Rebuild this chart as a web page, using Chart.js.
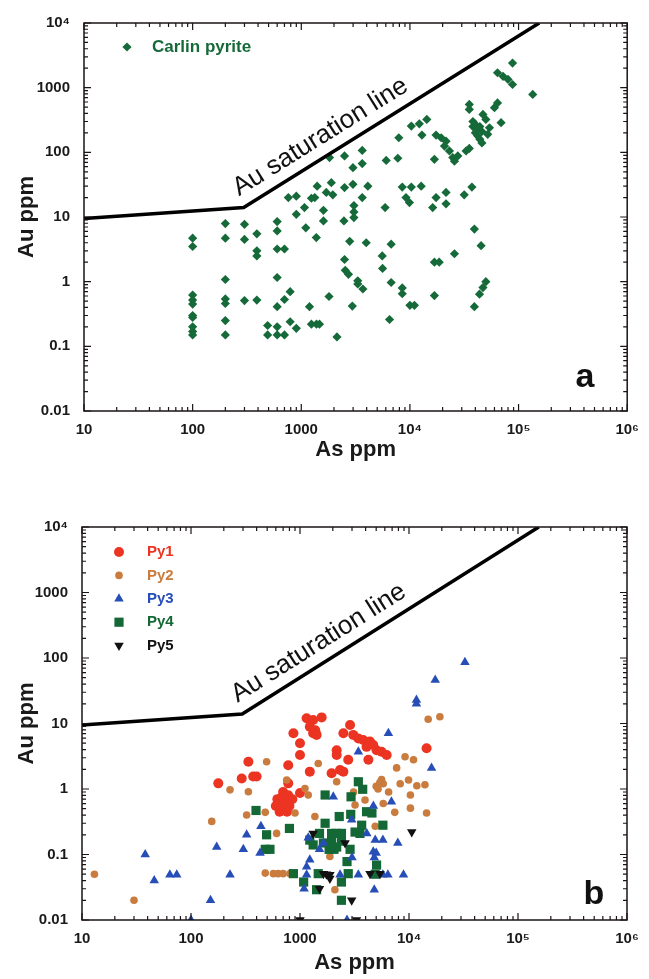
<!DOCTYPE html>
<html>
<head>
<meta charset="utf-8">
<script src="https://cdn.jsdelivr.net/npm/chart.js@4.4.0/dist/chart.umd.min.js"></script>
<style>
  html, body { margin: 0; padding: 0; background: #fff; }
  body { width: 649px; height: 979px; position: relative; overflow: hidden; }
  .panel { position: absolute; left: 0; width: 649px; }
  #panelA { top: 0; height: 470px; }
  #panelB { top: 490px; height: 489px; }
</style>
</head>
<body>
<div class="panel" id="panelA"><canvas id="chartA" width="649" height="470"></canvas></div>
<div class="panel" id="panelB"><canvas id="chartB" width="649" height="489"></canvas></div>
<script>
// tick labels
var xTickLabels = ['10', '100', '1000', '10⁴', '10⁵', '10⁶'];
var yTickLabels = ['0.01', '0.1', '1', '10', '100', '1000', '10⁴'];

// Au saturation line (As ppm, Au ppm)
var satAs = [10, 295, 155000];
var satAu = [9.5, 14, 10000];
var satLabel = 'Au saturation line';

// panel a: [As ppm, Au ppm]
var carlinPyrite = [
  [100,4.7],[100,3.5],[100,0.62],[100,0.52],[100,0.45],[100,0.3],[100,0.28],[100,0.2],[100,0.17],[100,0.15],
  [200,7.9],[200,4.7],[200,1.08],[200,0.54],[200,0.46],[200,0.25],[200,0.15],
  [300,7.7],[300,4.5],[300,0.51],
  [390,5.5],[390,3.0],[390,2.5],[390,0.52],
  [490,0.21],[490,0.15],
  [600,8.5],[600,6.1],[600,3.2],[600,1.16],[600,0.41],[600,0.2],[600,0.15],
  [700,3.2],[700,0.53],[700,0.15],
  [760,20],[790,0.7],[790,0.24],
  [900,21],[900,11],[900,0.19],
  [1070,14],[1100,6.8],[1190,0.41],[1240,19.5],[1240,0.22],[1330,20],[1400,30],[1375,4.8],[1380,0.22],[1470,0.22],
  [1600,12.7],[1600,8.7],[1700,24],[1800,0.59],[1820,83],[1890,34],[1950,22],[2130,0.14],
  [2470,8.7],[2500,28.5],[2500,2.2],[2500,88],[2540,1.5],[2720,1.3],[2790,4.2],
  [2990,32],[2990,58],[2950,0.42],[3050,15],[3050,12],[3050,9.8],
  [3310,1.03],[3310,0.92],[3640,107],[3640,67],[3640,20],[3690,0.77],[3960,4.0],[4100,30],
  [5560,2.5],[5600,1.6],[5910,14],[6050,75],[6490,0.26],[6720,3.8],[6720,0.97],
  [7740,81],[7900,168],[8500,29],[8500,0.8],[8500,0.65],[9200,20],[9900,16.7],
  [10300,29],[10300,255],[10000,0.43],[11000,0.43],[12200,276],[12700,30],[12900,185],[14300,323],
  [16200,14],[16800,78],[16800,0.61],[16800,2.0],[17400,185],[17400,20],[18600,2.0],[19400,168],
  [20800,125],[21500,149],[21500,24],[21500,16],[23100,105],[24800,83],[25700,73],[25700,2.7],[27600,88],
  [31600,22],[32900,105],[35200,550],[35200,460],[35200,115],[37200,29],[38000,300],[38000,250],
  [39200,6.5],[39200,0.41],[40000,200],[40000,270],[42000,180],[42000,230],[44000,250],[44000,160],
  [45200,3.6],[46000,210],[46000,140],[47000,385],[43700,0.64],[47000,0.81],[50000,323],[50000,1.0],
  [52000,190],[54000,240],[60000,490],[64000,580],[69000,287],
  [64000,1700],[72000,1500],[80000,1340],[88000,1120],[88000,2400],[135000,785]
];

// panel b: [As ppm, Au ppm]
var py1 = [
  [178,1.22],[292,1.45],[336,2.6],[372,1.55],[400,1.55],
  [600,0.55],[620,0.7],[650,0.6],[650,0.45],[680,0.75],[700,0.5],[700,0.9],[720,0.65],[750,0.6],[760,0.45],
  [780,0.8],[800,0.55],[850,0.7],[780,1.22],[1000,0.87],
  [780,2.3],[870,7.1],[1000,5.0],[1000,3.3],[1150,12],[1230,8.9],[1230,1.84],[1320,11.3],[1320,7.1],[1380,7.9],
  [1420,6.7],[1580,12.4],[1950,1.74],[2170,3.9],[2170,3.3],[2330,1.95],[2500,1.84],[2500,7.1],[2770,2.8],
  [2880,9.5],[3080,6.7],[3430,5.9],[3800,5.6],[4080,4.4],[4240,2.8],[4380,5.3],[4700,4.7],[5040,3.9],
  [5600,3.7],[6240,3.3],[14500,4.2]
];
var py2 = [
  [13,0.05],[30,0.02],[155,0.32],[228,0.97],[324,0.4],[336,0.91],[480,0.44],[480,0.052],[494,2.6],[570,0.051],
  [610,0.21],[630,0.051],[700,0.051],[755,1.37],[810,0.051],[900,0.43],
  [1110,1.02],[1190,0.81],[1370,0.38],[1470,2.45],[1880,0.093],[2090,0.029],[2170,1.29],[3100,0.9],[3200,0.57],
  [3950,0.68],[4900,0.27],[5000,1.1],[5200,1.0],[5400,1.25],[5600,1.4],[5800,1.2],[5800,0.6],[6500,0.9],
  [7400,0.44],[7700,2.1],[8300,1.2],[9200,3.1],[9900,1.37],[10300,0.81],[10300,0.51],[11000,2.8],[11800,1.12],
  [14000,1.16],[14500,0.43],[15000,11.6],[19200,12.7]
];
var py3 = [
  [38,0.1],[46,0.04],[64,0.049],[74,0.049],[100,0.01],[151,0.02],[172,0.13],[228,0.049],[302,0.12],[324,0.2],
  [430,0.105],[438,0.27],[1090,0.03],[1150,0.049],[1150,0.065],[1190,0.18],[1230,0.083],[1510,0.12],[1640,0.15],
  [2020,0.76],[2330,0.049],[2700,0.01],[2980,0.34],[3000,0.09],[3430,0.049],[3430,3.7],[4100,0.21],[4700,0.11],
  [4710,0.55],[4800,0.029],[4800,0.09],[4900,0.166],[5000,0.105],[5760,0.049],[5760,0.166],[6400,0.049],
  [6470,7.1],[6900,0.64],[7900,0.15],[8900,0.049],[11700,22.9],[11700,20],[16100,2.1],[17400,46],[32600,86]
];
var py4 = [
  [395,0.47],[480,0.12],[494,0.2],[530,0.12],[800,0.25],[870,0.051],[1080,0.038],[1230,0.166],[1320,0.14],
  [1420,0.029],[1470,0.051],[1510,0.21],[1640,0.15],[1700,0.3],[1700,0.81],[1850,0.12],[1950,0.21],[1950,0.16],
  [2050,0.12],[2170,0.21],[2170,0.13],[2290,0.38],[2400,0.21],[2400,0.16],[2400,0.038],[2400,0.02],[2700,0.078],
  [2770,0.051],[2880,0.12],[2920,0.41],[2940,0.76],[3200,0.22],[3430,1.29],[3550,0.21],[3680,0.28],[3760,0.99],
  [4080,0.45],[4570,0.43],[5040,0.069],[4900,0.05],[5760,0.28]
];
var py5 = [
  [1000,0.01],[1320,0.21],[1510,0.03],[1640,0.051],[1750,0.05],[1880,0.049],[1880,0.043],[2590,0.15],
  [2980,0.02],[3300,0.01],[4390,0.051],[5420,0.051],[10600,0.22]
];

var FONT = '"Liberation Sans", Arial, Helvetica, sans-serif';

function toXY(pairs) {
  return pairs.map(function (p) { return {x: p[0], y: p[1]}; });
}

function logTicks(lo, hi) {
  var out = [];
  for (var e = lo; e < hi; e++) {
    for (var m = 1; m < 10; m++) out.push({value: m * Math.pow(10, e)});
  }
  out.push({value: Math.pow(10, hi)});
  return out;
}

function isDecade(v) {
  var e = Math.log10(v);
  return Math.abs(e - Math.round(e)) < 1e-6;
}

function drawMarker(ctx, style, radius, rotation, x, y) {
  if (Chart.helpers && Chart.helpers.drawPoint) {
    Chart.helpers.drawPoint(ctx, {pointStyle: style, radius: radius, rotation: rotation, borderWidth: 0}, x, y);
    return;
  }
  ctx.beginPath();
  ctx.arc(x, y, radius, 0, Math.PI * 2);
  ctx.fill();
}

var decor = {
  id: 'decor',
  afterDatasetsDraw: function (chart, args, opts) {
    var ctx = chart.ctx;
    var a = chart.chartArea;
    var xs = chart.scales.x, ys = chart.scales.y;
    ctx.save();

    // frame and inward ticks on all sides
    ctx.strokeStyle = '#1b1414';
    ctx.lineWidth = 1.5;
    ctx.strokeRect(a.left, a.top, a.right - a.left, a.bottom - a.top);
    ctx.lineWidth = 1.2;
    ctx.beginPath();
    xs.ticks.forEach(function (t) {
      var px = xs.getPixelForValue(t.value);
      var len = isDecade(t.value) ? 7 : 4;
      ctx.moveTo(px, a.bottom); ctx.lineTo(px, a.bottom - len);
      ctx.moveTo(px, a.top); ctx.lineTo(px, a.top + len);
    });
    ys.ticks.forEach(function (t) {
      var py = ys.getPixelForValue(t.value);
      var len = isDecade(t.value) ? 7 : 4;
      ctx.moveTo(a.left, py); ctx.lineTo(a.left + len, py);
      ctx.moveTo(a.right, py); ctx.lineTo(a.right - len, py);
    });
    ctx.stroke();

    // saturation line label, rotated along the steep segment
    var x1 = xs.getPixelForValue(satAs[1]), y1 = ys.getPixelForValue(satAu[1]);
    var x2 = xs.getPixelForValue(satAs[2]), y2 = ys.getPixelForValue(satAu[2]);
    ctx.save();
    ctx.translate(x1, y1);
    ctx.rotate(Math.atan2(y2 - y1, x2 - x1));
    ctx.font = '26px ' + FONT;
    ctx.fillStyle = '#111';
    ctx.textAlign = 'left';
    ctx.textBaseline = 'alphabetic';
    ctx.fillText(satLabel, 2, -12);
    ctx.restore();

    // legend
    ctx.textAlign = 'left';
    ctx.textBaseline = 'middle';
    ctx.font = 'bold ' + opts.legendFont + 'px ' + FONT;
    opts.legend.forEach(function (it, i) {
      var yy = opts.legendY + i * opts.legendStep;
      ctx.fillStyle = it.color;
      drawMarker(ctx, it.style, it.radius, it.rotation || 0, opts.markerX, yy);
      ctx.fillStyle = it.color;
      ctx.fillText(it.label, opts.textX, yy);
    });

    // panel letter
    ctx.fillStyle = '#111';
    ctx.textAlign = 'center';
    ctx.textBaseline = 'alphabetic';
    ctx.font = 'bold 34px ' + FONT;
    ctx.fillText(opts.letter, opts.letterX, opts.letterY);

    ctx.restore();
  }
};

function makeScales(yWidth, xHeight, titlePadX) {
  return {
    x: {
      type: 'logarithmic',
      min: 10, max: 1e6,
      afterBuildTicks: function (s) { s.ticks = logTicks(1, 6); },
      afterFit: function (s) { s.height = xHeight; },
      grid: {display: false, drawTicks: false},
      border: {display: false},
      ticks: {
        autoSkip: false, maxRotation: 0, padding: 10, color: '#1a1a1a',
        font: {family: FONT, size: 15, weight: 'bold'},
        callback: function (v) {
          return isDecade(v) ? xTickLabels[Math.round(Math.log10(v)) - 1] : '';
        }
      },
      title: {
        display: true, text: 'As ppm', color: '#1a1a1a',
        font: {family: FONT, size: 22, weight: 'bold'},
        padding: {top: 0, bottom: titlePadX}
      }
    },
    y: {
      type: 'logarithmic',
      min: 0.01, max: 1e4,
      afterBuildTicks: function (s) { s.ticks = logTicks(-2, 4); },
      afterFit: function (s) { s.width = yWidth; },
      grid: {display: false, drawTicks: false},
      border: {display: false},
      ticks: {
        autoSkip: false, padding: 14, color: '#1a1a1a',
        font: {family: FONT, size: 15, weight: 'bold'},
        callback: function (v) {
          return isDecade(v) ? yTickLabels[Math.round(Math.log10(v)) + 2] : '';
        }
      },
      title: {
        display: true, text: 'Au ppm', color: '#1a1a1a',
        font: {family: FONT, size: 22, weight: 'bold'},
        padding: {top: 14, bottom: 0}
      }
    }
  };
}

function satDataset() {
  return {
    label: satLabel,
    data: satAs.map(function (v, i) { return {x: v, y: satAu[i]}; }),
    showLine: true,
    borderColor: '#000',
    borderWidth: 3.5,
    pointRadius: 0,
    order: -1
  };
}

var GREEN = 'rgb(22,106,58)';
var RED = 'rgb(236,52,34)';
var BROWN = 'rgb(201,124,62)';
var BLUE = 'rgb(38,78,182)';
var DKGREEN = 'rgb(20,104,54)';
var BLACK = '#111';

new Chart(document.getElementById('chartA'), {
  type: 'scatter',
  data: {
    datasets: [
      satDataset(),
      {label: 'Carlin pyrite', data: toXY(carlinPyrite), pointStyle: 'rectRot', pointRadius: 4.6,
       backgroundColor: GREEN, borderWidth: 0}
    ]
  },
  options: {
    responsive: false,
    animation: false,
    layout: {padding: {top: 22, right: 21, left: 0, bottom: 0}},
    scales: makeScales(84, 59, 7),
    plugins: {
      legend: {display: false},
      tooltip: {enabled: false},
      decor: {
        legend: [{label: 'Carlin pyrite', color: GREEN, style: 'rectRot', radius: 4.6}],
        legendFont: 17, markerX: 127, textX: 152, legendY: 47, legendStep: 0,
        letter: 'a', letterX: 585, letterY: 387
      }
    }
  },
  plugins: [decor]
});

new Chart(document.getElementById('chartB'), {
  type: 'scatter',
  data: {
    datasets: [
      satDataset(),
      {label: 'Py5', data: toXY(py5), pointStyle: 'triangle', rotation: 180, pointRadius: 5.5,
       backgroundColor: BLACK, borderWidth: 0, order: 0},
      {label: 'Py3', data: toXY(py3), pointStyle: 'triangle', pointRadius: 5.5,
       backgroundColor: BLUE, borderWidth: 0, order: 1},
      {label: 'Py4', data: toXY(py4), pointStyle: 'rect', pointRadius: 6.5,
       backgroundColor: DKGREEN, borderWidth: 0, order: 2},
      {label: 'Py2', data: toXY(py2), pointStyle: 'circle', pointRadius: 3.8,
       backgroundColor: BROWN, borderWidth: 0, order: 3},
      {label: 'Py1', data: toXY(py1), pointStyle: 'circle', pointRadius: 5,
       backgroundColor: RED, borderWidth: 0, order: 4}
    ]
  },
  options: {
    responsive: false,
    animation: false,
    layout: {padding: {top: 37, right: 22, left: 0, bottom: 0}},
    scales: makeScales(82, 59, 3),
    plugins: {
      legend: {display: false},
      tooltip: {enabled: false},
      decor: {
        legend: [
          {label: 'Py1', color: RED, style: 'circle', radius: 5},
          {label: 'Py2', color: BROWN, style: 'circle', radius: 3.8},
          {label: 'Py3', color: BLUE, style: 'triangle', radius: 5.5},
          {label: 'Py4', color: DKGREEN, style: 'rect', radius: 6.5},
          {label: 'Py5', color: BLACK, style: 'triangle', radius: 5.5, rotation: 180}
        ],
        legendFont: 15, markerX: 119, textX: 147, legendY: 62, legendStep: 23.4,
        letter: 'b', letterX: 594, letterY: 414
      }
    }
  },
  plugins: [decor]
});
</script>
</body>
</html>
